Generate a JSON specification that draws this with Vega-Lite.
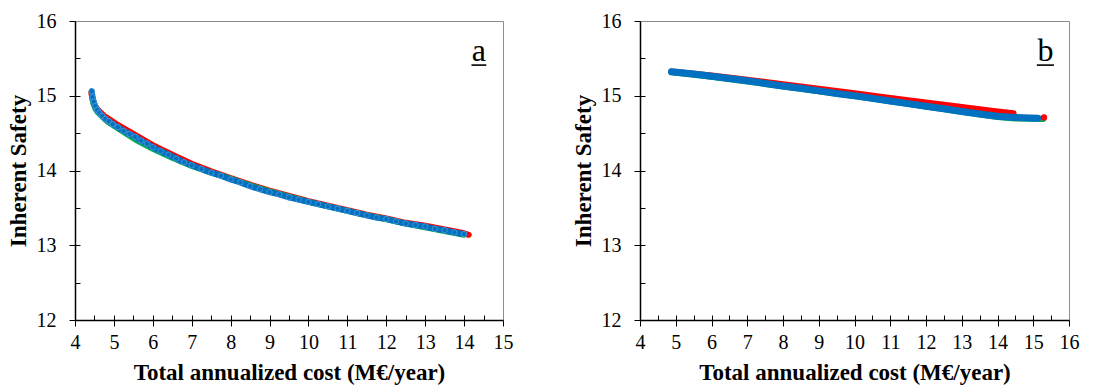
{
  "$schema": "https://vega.github.io/schema/vega-lite/v6.json",
  "padding": {"left": 6, "top": 10, "right": 5, "bottom": 0},
  "background": "white",
  "config": {
    "view": {"stroke": "#8c8c8c", "strokeWidth": 1},
    "axis": {"grid": false, "domainColor": "#000000", "domainWidth": 1.5, "tickColor": "#000000", "tickWidth": 1,
      "labelFont": "Liberation Serif", "labelFontSize": 20, "labelColor": "#000000",
      "titleFont": "Liberation Serif", "titleFontSize": 23, "titleFontWeight": "bold", "titleColor": "#000000",
      "labelFlush": false, "labelOverlap": false},
    "concat": {"spacing": 57}
  },
  "datasets": {
    "curves": [
      {"p":"a","s":"red","x":4.42,"y":15.04},{"p":"a","s":"red","x":4.45,"y":14.95},{"p":"a","s":"red","x":4.50,"y":14.88},{"p":"a","s":"red","x":4.57,"y":14.82},{"p":"a","s":"red","x":4.65,"y":14.78},{"p":"a","s":"red","x":4.75,"y":14.73},{"p":"a","s":"red","x":4.9,"y":14.68},{"p":"a","s":"red","x":5.1,"y":14.61},{"p":"a","s":"red","x":5.4,"y":14.52},{"p":"a","s":"red","x":5.7,"y":14.43},{"p":"a","s":"red","x":6.0,"y":14.34},{"p":"a","s":"red","x":6.5,"y":14.21},{"p":"a","s":"red","x":7.0,"y":14.09},{"p":"a","s":"red","x":7.5,"y":13.99},{"p":"a","s":"red","x":8.0,"y":13.90},{"p":"a","s":"red","x":8.5,"y":13.81},{"p":"a","s":"red","x":9.0,"y":13.73},{"p":"a","s":"red","x":9.5,"y":13.66},{"p":"a","s":"red","x":10.0,"y":13.59},{"p":"a","s":"red","x":10.5,"y":13.53},{"p":"a","s":"red","x":11.0,"y":13.47},{"p":"a","s":"red","x":11.5,"y":13.41},{"p":"a","s":"red","x":12.0,"y":13.36},{"p":"a","s":"red","x":12.5,"y":13.30},{"p":"a","s":"red","x":13.0,"y":13.26},{"p":"a","s":"red","x":13.5,"y":13.21},{"p":"a","s":"red","x":14.0,"y":13.16},{"p":"a","s":"red","x":14.12,"y":13.14},

      {"p":"a","s":"green","x":4.44,"y":15.0},{"p":"a","s":"green","x":4.47,"y":14.90},{"p":"a","s":"green","x":4.52,"y":14.83},{"p":"a","s":"green","x":4.6,"y":14.77},{"p":"a","s":"green","x":4.7,"y":14.72},{"p":"a","s":"green","x":4.85,"y":14.65},{"p":"a","s":"green","x":5.0,"y":14.60},{"p":"a","s":"green","x":5.3,"y":14.50},{"p":"a","s":"green","x":5.6,"y":14.40},{"p":"a","s":"green","x":6.0,"y":14.29},{"p":"a","s":"green","x":6.5,"y":14.17},{"p":"a","s":"green","x":7.0,"y":14.06},{"p":"a","s":"green","x":7.5,"y":13.97},{"p":"a","s":"green","x":8.0,"y":13.89},{"p":"a","s":"green","x":8.5,"y":13.80},{"p":"a","s":"green","x":9.0,"y":13.72},{"p":"a","s":"green","x":9.5,"y":13.65},{"p":"a","s":"green","x":10.0,"y":13.58},{"p":"a","s":"green","x":10.5,"y":13.52},{"p":"a","s":"green","x":11.0,"y":13.46},{"p":"a","s":"green","x":11.5,"y":13.40},{"p":"a","s":"green","x":12.0,"y":13.35},{"p":"a","s":"green","x":12.5,"y":13.29},{"p":"a","s":"green","x":13.0,"y":13.24},{"p":"a","s":"green","x":13.5,"y":13.19},{"p":"a","s":"green","x":14.0,"y":13.14},

      {"p":"a","s":"blue","x":4.43,"y":15.06},{"p":"a","s":"blue","x":4.45,"y":14.98},{"p":"a","s":"blue","x":4.48,"y":14.92},{"p":"a","s":"blue","x":4.52,"y":14.86},{"p":"a","s":"blue","x":4.57,"y":14.81},{"p":"a","s":"blue","x":4.63,"y":14.77},{"p":"a","s":"blue","x":4.70,"y":14.73},{"p":"a","s":"blue","x":4.78,"y":14.69},{"p":"a","s":"blue","x":4.87,"y":14.66},{"p":"a","s":"blue","x":4.97,"y":14.62},{"p":"a","s":"blue","x":5.1,"y":14.58},{"p":"a","s":"blue","x":5.25,"y":14.53},{"p":"a","s":"blue","x":5.4,"y":14.49},{"p":"a","s":"blue","x":5.55,"y":14.45},{"p":"a","s":"blue","x":5.7,"y":14.40},{"p":"a","s":"blue","x":5.85,"y":14.36},{"p":"a","s":"blue","x":6.0,"y":14.31},{"p":"a","s":"blue","x":6.2,"y":14.26},{"p":"a","s":"blue","x":6.4,"y":14.21},{"p":"a","s":"blue","x":6.6,"y":14.16},{"p":"a","s":"blue","x":6.8,"y":14.11},{"p":"a","s":"blue","x":7.0,"y":14.07},{"p":"a","s":"blue","x":7.25,"y":14.02},{"p":"a","s":"blue","x":7.5,"y":13.97},{"p":"a","s":"blue","x":7.75,"y":13.93},{"p":"a","s":"blue","x":8.0,"y":13.88},{"p":"a","s":"blue","x":8.25,"y":13.84},{"p":"a","s":"blue","x":8.5,"y":13.79},{"p":"a","s":"blue","x":8.75,"y":13.75},{"p":"a","s":"blue","x":9.0,"y":13.71},{"p":"a","s":"blue","x":9.25,"y":13.68},{"p":"a","s":"blue","x":9.5,"y":13.64},{"p":"a","s":"blue","x":9.75,"y":13.61},{"p":"a","s":"blue","x":10.0,"y":13.58},{"p":"a","s":"blue","x":10.25,"y":13.55},{"p":"a","s":"blue","x":10.5,"y":13.52},{"p":"a","s":"blue","x":10.75,"y":13.49},{"p":"a","s":"blue","x":11.0,"y":13.46},{"p":"a","s":"blue","x":11.25,"y":13.43},{"p":"a","s":"blue","x":11.5,"y":13.40},{"p":"a","s":"blue","x":11.75,"y":13.37},{"p":"a","s":"blue","x":12.0,"y":13.35},{"p":"a","s":"blue","x":12.25,"y":13.32},{"p":"a","s":"blue","x":12.5,"y":13.29},{"p":"a","s":"blue","x":12.75,"y":13.27},{"p":"a","s":"blue","x":13.0,"y":13.25},{"p":"a","s":"blue","x":13.25,"y":13.22},{"p":"a","s":"blue","x":13.5,"y":13.20},{"p":"a","s":"blue","x":13.75,"y":13.17},{"p":"a","s":"blue","x":14.0,"y":13.15},

      {"p":"b","s":"red","x":4.88,"y":15.325},{"p":"b","s":"red","x":6,"y":15.27},{"p":"b","s":"red","x":7,"y":15.215},{"p":"b","s":"red","x":8,"y":15.155},{"p":"b","s":"red","x":9,"y":15.095},{"p":"b","s":"red","x":10,"y":15.035},{"p":"b","s":"red","x":11,"y":14.97},{"p":"b","s":"red","x":12,"y":14.91},{"p":"b","s":"red","x":13,"y":14.85},{"p":"b","s":"red","x":14,"y":14.79},{"p":"b","s":"red","x":14.45,"y":14.765},

      {"p":"b","s":"green","x":4.88,"y":15.315},{"p":"b","s":"green","x":6,"y":15.255},{"p":"b","s":"green","x":8,"y":15.125},{"p":"b","s":"green","x":10,"y":14.995},{"p":"b","s":"green","x":12,"y":14.855},{"p":"b","s":"green","x":13,"y":14.785},{"p":"b","s":"green","x":14,"y":14.715},{"p":"b","s":"green","x":14.5,"y":14.695},{"p":"b","s":"green","x":15.28,"y":14.69},

      {"p":"b","s":"blue","x":4.88,"y":15.32},{"p":"b","s":"blue","x":5.5,"y":15.29},{"p":"b","s":"blue","x":6,"y":15.26},{"p":"b","s":"blue","x":6.5,"y":15.23},{"p":"b","s":"blue","x":7,"y":15.20},{"p":"b","s":"blue","x":7.5,"y":15.165},{"p":"b","s":"blue","x":8,"y":15.13},{"p":"b","s":"blue","x":8.5,"y":15.10},{"p":"b","s":"blue","x":9,"y":15.065},{"p":"b","s":"blue","x":9.5,"y":15.03},{"p":"b","s":"blue","x":10,"y":15.0},{"p":"b","s":"blue","x":10.5,"y":14.965},{"p":"b","s":"blue","x":11,"y":14.93},{"p":"b","s":"blue","x":11.5,"y":14.895},{"p":"b","s":"blue","x":12,"y":14.86},{"p":"b","s":"blue","x":12.5,"y":14.825},{"p":"b","s":"blue","x":13,"y":14.79},{"p":"b","s":"blue","x":13.5,"y":14.755},{"p":"b","s":"blue","x":14,"y":14.725},{"p":"b","s":"blue","x":14.5,"y":14.71},{"p":"b","s":"blue","x":15.13,"y":14.70},

      {"p":"b","s":"reddot","x":15.3,"y":14.71}
    ],
    "labels": [
      {"p":"a","label":"a","x":14.38,"y":15.47,"x2":14.57,"xs":14.19,"yu":15.41},
      {"p":"b","label":"b","x":15.34,"y":15.47,"x2":15.58,"xs":15.1,"yu":15.41}
    ]
  },
  "hconcat": [
    {
      "width": 428, "height": 299,
      "resolve": {"axis": {"x": "independent", "y": "independent"}},
      "layer": [
        {
          "encoding": {
            "x": {"field":"x","type":"quantitative","scale":{"domain":[4,15],"nice":false,"zero":false},
              "axis":{"title":"Total annualized cost (M€/year)","values":[4,5,6,7,8,9,10,11,12,13,14,15],"format":"d",
                "labelFont":"Liberation Serif","labelFontSize":20,"titleFont":"Liberation Serif","titleFontSize":23,"titleFontWeight":"bold",
                "tickSize":6,"labelPadding":6,"titlePadding":9}},
            "y": {"field":"y","type":"quantitative","scale":{"domain":[12,16],"nice":false,"zero":false},
              "axis":{"title":"Inherent Safety","values":[12,13,14,15,16],"format":"d",
                "labelFont":"Liberation Serif","labelFontSize":20,"titleFont":"Liberation Serif","titleFontSize":23,"titleFontWeight":"bold",
                "tickSize":6,"labelPadding":13,"titlePadding":6}}
          },
          "layer": [
            {"data":{"name":"curves"},"transform":[{"filter":"datum.p==='a' && datum.s==='red'"}],
             "mark":{"type":"line","strokeWidth":6,"strokeCap":"round","strokeJoin":"round","color":"#FF0000"},"encoding":{}},
            {"data":{"name":"curves"},"transform":[{"filter":"datum.p==='a' && datum.s==='green'"}],
             "mark":{"type":"line","strokeWidth":6,"strokeCap":"round","strokeJoin":"round","color":"#00B050"},"encoding":{}},
            {"data":{"name":"curves"},"transform":[{"filter":"datum.p==='a' && datum.s==='blue'"}],
             "mark":{"type":"line","strokeWidth":6,"strokeCap":"round","strokeJoin":"round","color":"#0070C0"},"encoding":{}},
            {"data":{"name":"curves"},"transform":[{"filter":"datum.p==='a' && datum.s==='blue'"}],
             "mark":{"type":"circle","size":30,"color":"#0070C0","opacity":1,"stroke":"#5B9BD5","strokeWidth":0.8}},
            {"data":{"name":"labels"},"transform":[{"filter":"datum.p==='a'"}],
             "mark":{"type":"text","font":"Liberation Serif","fontSize":32,"align":"center","baseline":"alphabetic","color":"#000000"},
             "encoding":{"text":{"field":"label"}}}
          ]
        },
        {
          "data":{"name":"labels"},"transform":[{"filter":"datum.p==='a'"}],
          "mark":{"type":"rule","strokeWidth":1.6,"color":"#000000"},
          "encoding":{
            "x":{"field":"xs","type":"quantitative","scale":{"domain":[4,15],"nice":false,"zero":false},
              "axis":{"orient":"bottom","title":null,"labels":false,"domain":false,"tickSize":-5,
                "values":[4.5,5,5.5,6,6.5,7,7.5,8,8.5,9,9.5,10,10.5,11,11.5,12,12.5,13,13.5,14,14.5]}},
            "x2":{"field":"x2"},
            "y":{"field":"yu","type":"quantitative","scale":{"domain":[12,16],"nice":false,"zero":false},
              "axis":{"orient":"left","title":null,"labels":false,"domain":false,"tickSize":-5,
                "values":[12.5,13,13.5,14,14.5,15,15.5]}}
          }
        }
      ]
    },
    {
      "width": 429, "height": 299,
      "resolve": {"axis": {"x": "independent", "y": "independent"}},
      "layer": [
        {
          "encoding": {
            "x": {"field":"x","type":"quantitative","scale":{"domain":[4,16],"nice":false,"zero":false},
              "axis":{"title":"Total annualized cost (M€/year)","values":[4,5,6,7,8,9,10,11,12,13,14,15,16],"format":"d",
                "labelFont":"Liberation Serif","labelFontSize":20,"titleFont":"Liberation Serif","titleFontSize":23,"titleFontWeight":"bold",
                "tickSize":6,"labelPadding":6,"titlePadding":9}},
            "y": {"field":"y","type":"quantitative","scale":{"domain":[12,16],"nice":false,"zero":false},
              "axis":{"title":"Inherent Safety","values":[12,13,14,15,16],"format":"d",
                "labelFont":"Liberation Serif","labelFontSize":20,"titleFont":"Liberation Serif","titleFontSize":23,"titleFontWeight":"bold",
                "tickSize":6,"labelPadding":13,"titlePadding":6}}
          },
          "layer": [
            {"data":{"name":"curves"},"transform":[{"filter":"datum.p==='b' && datum.s==='red'"}],
             "mark":{"type":"line","strokeWidth":6,"strokeCap":"round","strokeJoin":"round","color":"#FF0000"},"encoding":{}},
            {"data":{"name":"curves"},"transform":[{"filter":"datum.p==='b' && datum.s==='green'"}],
             "mark":{"type":"line","strokeWidth":6,"strokeCap":"round","strokeJoin":"round","color":"#00B050"},"encoding":{}},
            {"data":{"name":"curves"},"transform":[{"filter":"datum.p==='b' && datum.s==='blue'"}],
             "mark":{"type":"line","strokeWidth":7,"strokeCap":"round","strokeJoin":"round","color":"#0070C0"},"encoding":{}},
            {"data":{"name":"curves"},"transform":[{"filter":"datum.p==='b' && datum.s==='reddot'"}],
             "mark":{"type":"circle","size":40,"color":"#FF0000","opacity":1}},
            {"data":{"name":"labels"},"transform":[{"filter":"datum.p==='b'"}],
             "mark":{"type":"text","font":"Liberation Serif","fontSize":32,"align":"center","baseline":"alphabetic","color":"#000000"},
             "encoding":{"text":{"field":"label"}}}
          ]
        },
        {
          "data":{"name":"labels"},"transform":[{"filter":"datum.p==='b'"}],
          "mark":{"type":"rule","strokeWidth":1.6,"color":"#000000"},
          "encoding":{
            "x":{"field":"xs","type":"quantitative","scale":{"domain":[4,16],"nice":false,"zero":false},
              "axis":{"orient":"bottom","title":null,"labels":false,"domain":false,"tickSize":-5,
                "values":[4.5,5,5.5,6,6.5,7,7.5,8,8.5,9,9.5,10,10.5,11,11.5,12,12.5,13,13.5,14,14.5,15,15.5]}},
            "x2":{"field":"x2"},
            "y":{"field":"yu","type":"quantitative","scale":{"domain":[12,16],"nice":false,"zero":false},
              "axis":{"orient":"left","title":null,"labels":false,"domain":false,"tickSize":-5,
                "values":[12.5,13,13.5,14,14.5,15,15.5]}}
          }
        }
      ]
    }
  ]
}
